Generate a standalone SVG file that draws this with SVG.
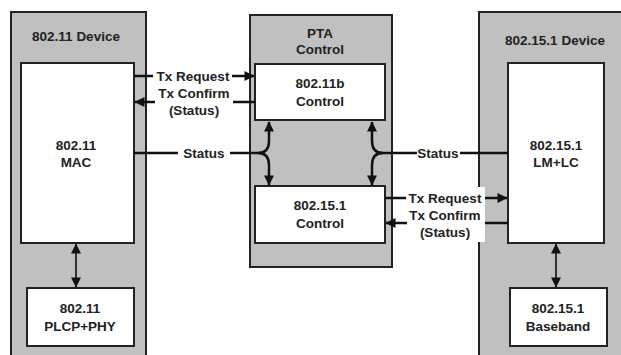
<svg xmlns="http://www.w3.org/2000/svg" width="621" height="355" viewBox="0 0 621 355">
  <defs>
    <marker id="ah" viewBox="0 0 10 10" refX="9.5" refY="5" markerWidth="11" markerHeight="10" orient="auto-start-reverse" markerUnits="userSpaceOnUse">
      <path d="M0,0 L10,5 L0,10 z" fill="#111"/>
    </marker>
    <style>
      .outer { fill: #c0c0c0; stroke: #222; stroke-width: 2; }
      .box { fill: #fff; stroke: #222; stroke-width: 2; }
      .t { font-family: "Liberation Sans", Arial, sans-serif; font-weight: bold; font-size: 13.5px; fill: #222; text-anchor: middle; }
      .ln { fill: none; stroke: #111; stroke-width: 2.5; }
      .thin { fill: none; stroke: #111; stroke-width: 1.6; }
    </style>
  </defs>
  <rect width="621" height="355" fill="#fff"/>

  <!-- 802.11 device -->
  <g id="dev80211">
    <rect class="outer" x="11" y="12" width="135" height="360"/>
    <text class="t" x="76" y="41">802.11 Device</text>
  </g>
  <g id="mac">
    <rect class="box" x="21" y="63" width="113" height="180"/>
    <text class="t" x="76" y="150">802.11</text>
    <text class="t" x="76" y="167">MAC</text>
  </g>
  <g id="plcp">
    <rect class="box" x="27" y="288" width="107" height="58"/>
    <text class="t" x="80" y="313">802.11</text>
    <text class="t" x="80" y="331">PLCP+PHY</text>
  </g>

  <!-- PTA -->
  <g id="pta">
    <rect class="outer" x="250" y="15" width="142" height="252"/>
    <text class="t" x="320" y="38">PTA</text>
    <text class="t" x="320" y="54">Control</text>
  </g>
  <g id="ctl11b">
    <rect class="box" x="255" y="64" width="130" height="56"/>
    <text class="t" x="320" y="88">802.11b</text>
    <text class="t" x="320" y="106">Control</text>
  </g>
  <g id="ctl1551">
    <rect class="box" x="255" y="186" width="130" height="57"/>
    <text class="t" x="320" y="210">802.15.1</text>
    <text class="t" x="320" y="228">Control</text>
  </g>

  <!-- 802.15.1 device -->
  <g id="dev802151">
    <rect class="outer" x="479" y="12" width="160" height="360"/>
    <text class="t" x="555" y="45">802.15.1 Device</text>
  </g>
  <g id="lmlc">
    <rect class="box" x="508" y="63" width="96" height="180"/>
    <text class="t" x="556" y="150">802.15.1</text>
    <text class="t" x="556" y="167">LM+LC</text>
  </g>
  <g id="baseband">
    <rect class="box" x="510" y="288" width="97" height="58"/>
    <text class="t" x="558" y="313">802.15.1</text>
    <text class="t" x="558" y="331">Baseband</text>
  </g>

  <!-- connectors -->
  <g id="connectors">
    <!-- MAC <-> PTA 802.11b control -->
    <path class="ln" d="M134,76 H153"/>
    <path class="ln" d="M232,76 H254" marker-end="url(#ah)"/>
    <path class="ln" d="M255,102 H233"/>
    <path class="ln" d="M155,102 H135" marker-end="url(#ah)"/>

    <!-- status, left -->
    <path class="ln" d="M134,153 H178"/>
    <path class="ln" d="M230,153 H258"/>
    <path class="ln" d="M258,153 Q269,153 269,141 V122" marker-end="url(#ah)"/>
    <path class="ln" d="M258,153 Q269,153 269,165 V185" marker-end="url(#ah)"/>

    <!-- status, right -->
    <path class="ln" d="M508,153 H460"/>
    <path class="ln" d="M417,153 H383"/>
    <path class="ln" d="M383,153 Q372,153 372,141 V122" marker-end="url(#ah)"/>
    <path class="ln" d="M383,153 Q372,153 372,165 V185" marker-end="url(#ah)"/>

    <!-- PTA 802.15.1 control <-> LM+LC, label area over the device edge -->
    <rect x="405" y="187" width="80" height="55" fill="#fff"/>
    <path class="ln" d="M385,198 H406"/>
    <path class="ln" d="M485,198 H507" marker-end="url(#ah)"/>
    <path class="ln" d="M508,223 H485"/>
    <path class="ln" d="M407,223 H386" marker-end="url(#ah)"/>

    <!-- device-internal links -->
    <path class="thin" d="M76,244 V287" marker-start="url(#ah)" marker-end="url(#ah)"/>
    <path class="thin" d="M556,244 V287" marker-start="url(#ah)" marker-end="url(#ah)"/>
  </g>

  <!-- connector labels -->
  <g id="labels">
    <text class="t" x="193" y="81">Tx Request</text>
    <text class="t" x="194" y="98">Tx Confirm</text>
    <text class="t" x="194" y="115">(Status)</text>
    <text class="t" x="204" y="158">Status</text>
    <text class="t" x="438" y="158">Status</text>
    <text class="t" x="445" y="203">Tx Request</text>
    <text class="t" x="445" y="220">Tx Confirm</text>
    <text class="t" x="445" y="237">(Status)</text>
  </g>
</svg>
